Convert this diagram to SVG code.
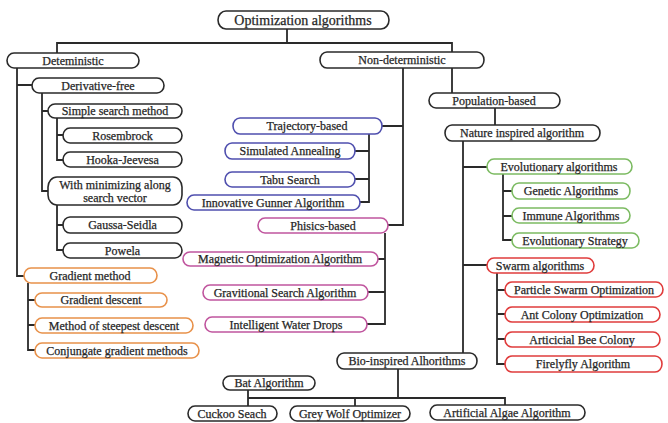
<svg xmlns="http://www.w3.org/2000/svg" width="668" height="423" viewBox="0 0 668 423" font-family="'Liberation Serif', 'DejaVu Serif', serif">
<style>
rect{fill:#fff;stroke-width:1.6}
.k rect{stroke:#2a2a2a}
.b rect{stroke:#4f4fae}
.p rect{stroke:#c0559e}
.o rect{stroke:#e8914a}
.g rect{stroke:#7cbb62}
.r rect{stroke:#e03c3c}
text{font-family:'Liberation Serif','DejaVu Serif',serif;font-size:12px;fill:#262626;stroke:#262626;stroke-width:0.25;text-anchor:middle}
#conn path{fill:none;stroke:#2a2a2a;stroke-width:1.8}
</style>
<rect x="0" y="0" width="668" height="423" style="fill:#fff;stroke:none"/>
<g id="conn">
<path d="M287 29V43M57 53V43H452V52M452 68V93"/>
<path d="M17 68V276H24M17 85H32"/>
<path d="M42 93V191H48M42 111H48"/>
<path d="M57 118V160H63M57 135H63"/>
<path d="M57 205V250H63M57 225H63"/>
<path d="M28 283V350H35M28 300H35M28 325H35"/>
<path d="M403 68V225H388M403 126H382"/>
<path d="M369 134V202H360M355 151H369M355 179H369"/>
<path d="M385 233V324H367M378 259H385M368 292H385"/>
<path d="M495 108V125"/>
<path d="M463 141V353M463 167H487M463 265H487"/>
<path d="M503 174V240H512M503 191H512M503 216H512"/>
<path d="M497 273V364H505M497 290H505M497 314H505M497 339H505"/>
<path d="M398 369V398M248 398H505V405M248 390V406M355 398V406"/>
</g>
<g id="root" class="k"><rect x="218" y="11" width="171" height="18" rx="8" ry="9"/><text x="303" y="24.5" style="font-size:14px">Optimization algorithms</text></g>
<g id="det" class="k"><rect x="7" y="53" width="132" height="15" rx="7" ry="7.5"/><text x="73" y="64.5">Deteministic</text></g>
<g id="deriv" class="k"><rect x="32" y="78" width="132" height="15" rx="7" ry="7.5"/><text x="98" y="89.5">Derivative-free</text></g>
<g id="simple" class="k"><rect x="48" y="104" width="134" height="14" rx="7" ry="7"/><text x="115" y="115">Simple search method</text></g>
<g id="rosen" class="k"><rect x="63" y="128" width="119" height="15" rx="7" ry="7.5"/><text x="122.5" y="139.5">Rosembrock</text></g>
<g id="hooka" class="k"><rect x="63" y="152" width="119" height="15" rx="7" ry="7.5"/><text x="122.5" y="163.5">Hooka-Jeevesa</text></g>
<g id="withmin" class="k"><rect x="48" y="177" width="134" height="28" rx="9" ry="10"/><text x="115" y="189">With minimizing along</text><text x="115" y="202">search vector</text></g>
<g id="gaussa" class="k"><rect x="63" y="217" width="119" height="16" rx="7" ry="8"/><text x="122.5" y="229">Gaussa-Seidla</text></g>
<g id="powela" class="k"><rect x="63" y="243" width="119" height="15" rx="7" ry="7.5"/><text x="122.5" y="254.5">Powela</text></g>
<g id="gradm" class="o"><rect x="24" y="268" width="133" height="15" rx="7" ry="7.5"/><text x="90" y="279.5">Gradient method</text></g>
<g id="gradd" class="o"><rect x="35" y="293" width="132" height="14" rx="7" ry="7"/><text x="101" y="304">Gradient descent</text></g>
<g id="steep" class="o"><rect x="35" y="318" width="158" height="15" rx="7" ry="7.5"/><text x="114" y="329.5">Method of steepest descent</text></g>
<g id="conj" class="o"><rect x="35" y="343" width="164" height="15" rx="7" ry="7.5"/><text x="117" y="354.5">Conjungate gradient methods</text></g>
<g id="nondet" class="k"><rect x="320" y="52" width="164" height="16" rx="7" ry="8"/><text x="402" y="64">Non-deterministic</text></g>
<g id="traj" class="b"><rect x="233" y="118" width="149" height="16" rx="7" ry="8"/><text x="307" y="130">Trajectory-based</text></g>
<g id="sim" class="b"><rect x="225" y="143" width="130" height="16" rx="7" ry="8"/><text x="290" y="155">Simulated Annealing</text></g>
<g id="tabu" class="b"><rect x="225" y="172" width="130" height="15" rx="7" ry="7.5"/><text x="290" y="183.5">Tabu Search</text></g>
<g id="igun" class="b"><rect x="187" y="195" width="173" height="15" rx="7" ry="7.5"/><text x="273" y="206.5">Innovative Gunner Algorithm</text></g>
<g id="phys" class="p"><rect x="258" y="218" width="130" height="15" rx="7" ry="7.5"/><text x="323" y="229.5">Phisics-based</text></g>
<g id="magn" class="p"><rect x="183" y="252" width="195" height="14" rx="7" ry="7"/><text x="280" y="263">Magnetic Optimization Algorithm</text></g>
<g id="grav" class="p"><rect x="203" y="285" width="165" height="15" rx="7" ry="7.5"/><text x="285" y="296.5">Gravitional Search Algorithm</text></g>
<g id="iwd" class="p"><rect x="205" y="317" width="162" height="15" rx="7" ry="7.5"/><text x="286" y="328.5">Intelligent Water Drops</text></g>
<g id="pop" class="k"><rect x="429" y="93" width="131" height="15" rx="7" ry="7.5"/><text x="494" y="104.5">Population-based</text></g>
<g id="nat" class="k"><rect x="445" y="125" width="155" height="16" rx="7" ry="8"/><text x="522" y="137">Nature inspired algorithm</text></g>
<g id="evo" class="g"><rect x="487" y="159" width="145" height="15" rx="7" ry="7.5"/><text x="559" y="170.5">Evolutionary algorithms</text></g>
<g id="gen" class="g"><rect x="512" y="183" width="118" height="16" rx="7" ry="8"/><text x="571" y="195">Genetic Algorithms</text></g>
<g id="imm" class="g"><rect x="512" y="208" width="118" height="15" rx="7" ry="7.5"/><text x="571" y="219.5">Immune Algorithms</text></g>
<g id="evs" class="g"><rect x="512" y="233" width="127" height="15" rx="7" ry="7.5"/><text x="575" y="244.5">Evolutionary Strategy</text></g>
<g id="swarm" class="r"><rect x="487" y="258" width="107" height="15" rx="7" ry="7.5"/><text x="540" y="269.5">Swarm algorithms</text></g>
<g id="pso" class="r"><rect x="505" y="282" width="158" height="15" rx="7" ry="7.5"/><text x="584" y="293.5">Particle Swarm Optimization</text></g>
<g id="aco" class="r"><rect x="505" y="307" width="155" height="15" rx="7" ry="7.5"/><text x="582" y="318.5">Ant Colony Optimization</text></g>
<g id="abc" class="r"><rect x="505" y="332" width="155" height="15" rx="7" ry="7.5"/><text x="582" y="343.5">Articicial Bee Colony</text></g>
<g id="ffa" class="r"><rect x="505" y="356" width="157" height="16" rx="7" ry="8"/><text x="583" y="368">Firelyfly Algorithm</text></g>
<g id="bio" class="k"><rect x="337" y="353" width="140" height="16" rx="7" ry="8"/><text x="407" y="365">Bio-inspired Alhorithms</text></g>
<g id="bat" class="k"><rect x="223" y="376" width="92" height="14" rx="7" ry="7"/><text x="269" y="387">Bat Algorithm</text></g>
<g id="cuckoo" class="k"><rect x="188" y="406" width="89" height="15" rx="7" ry="7.5"/><text x="232" y="417.5">Cuckoo Seach</text></g>
<g id="grey" class="k"><rect x="290" y="406" width="120" height="15" rx="7" ry="7.5"/><text x="350" y="417.5">Grey Wolf Optimizer</text></g>
<g id="algae" class="k"><rect x="430" y="405" width="155" height="15" rx="7" ry="7.5"/><text x="507" y="416.5">Artificial Algae Algorithm</text></g>
</svg>
